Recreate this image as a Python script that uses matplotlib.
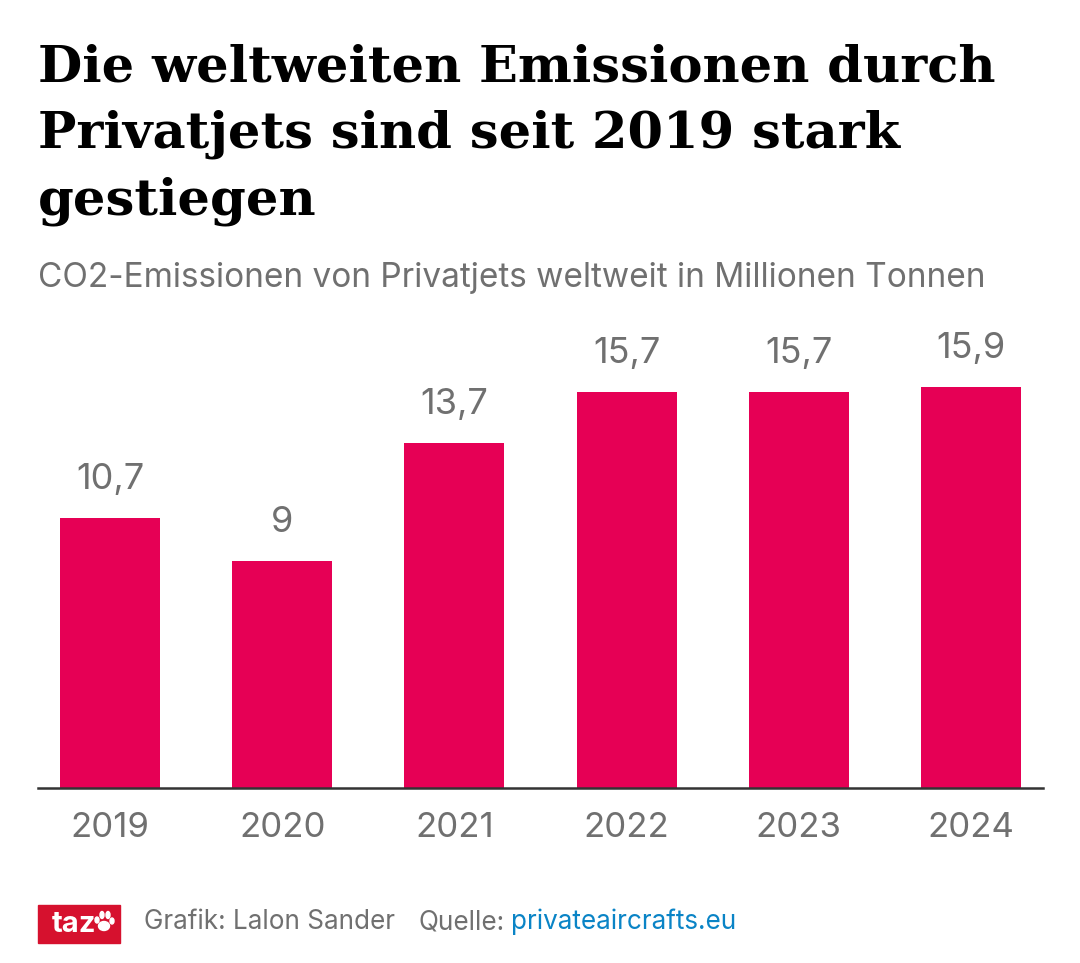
import matplotlib

matplotlib.use("Agg")

import matplotlib.pyplot as plt
from matplotlib.patches import Ellipse, Rectangle

years = ["2019", "2020", "2021", "2022", "2023", "2024"]
emissions = [10.7, 9.0, 13.7, 15.7, 15.7, 15.9]
value_labels = ["10,7", "9", "13,7", "15,7", "15,7", "15,9"]

title_lines = [
    "Die weltweiten Emissionen durch",
    "Privatjets sind seit 2019 stark",
    "gestiegen",
]
subtitle = "CO2-Emissionen von Privatjets weltweit in Millionen Tonnen"

W, H = 1080, 963
GREY = "#707070"
RED = "#E60055"

fig = plt.figure(figsize=(W / 100, H / 100), dpi=100)
fig.patch.set_facecolor("white")


def put(x, y, s, **kw):
    fig.text(x / W, 1 - y / H, s, **kw)


for y, line in zip([68, 134, 201], title_lines):
    put(38, y, line, fontsize=36.8, fontweight="bold", family="DejaVu Serif",
        va="center", ha="left", color="black")

put(38, 278, subtitle, fontsize=24, family="Inter", va="center", color=GREY)

ax = fig.add_axes([38 / W, 1 - 788 / H, (1043 - 38) / W, (788 - 330) / H])
ax.bar(range(len(years)), emissions, width=0.58, color=RED)
ax.set_xlim(-0.418, 5.418)
ax.set_ylim(0, 458 / 25.2)
ax.patch.set_alpha(0)
for side in ["top", "left", "right"]:
    ax.spines[side].set_visible(False)
ax.spines["bottom"].set_linewidth(1.8)
ax.spines["bottom"].set_color("#333333")
ax.set_yticks([])
ax.set_xticks(range(len(years)))
ax.set_xticklabels(years, fontsize=25, family="Inter", color=GREY)
ax.tick_params(axis="x", length=0, pad=17)
for i, (v, lab) in enumerate(zip(emissions, value_labels)):
    ax.annotate(lab, (i, v), xytext=(0, 16), textcoords="offset points",
                ha="center", va="bottom", fontsize=26, family="Inter",
                color=GREY)

# taz logo
LOGO = "#D6112E"
fig.add_artist(Rectangle((38 / W, 1 - 943 / H), 82 / W, 38 / H,
                         transform=fig.transFigure, color=LOGO))
put(52, 924, "taz", fontsize=21, fontweight="bold", family="Inter",
    color="white", va="center")
paw = [(104, 926, 11, 9), (97, 920, 4, 6), (102, 915, 4, 7),
       (108, 915, 4, 7), (112, 921, 4, 6)]
for cx, cy, ew, eh in paw:
    fig.add_artist(Ellipse((cx / W, 1 - cy / H), ew / W, eh / H,
                           transform=fig.transFigure, color="white"))

put(144, 922, "Grafik: Lalon Sander", fontsize=18.8, family="Inter",
    color=GREY, va="center")
put(419, 922, "Quelle:", fontsize=18.8, family="Inter", color=GREY, va="center")
put(511, 922, "privateaircrafts.eu", fontsize=18.8, family="Inter",
    color="#0A84C6", va="center")

fig.savefig("out.png", dpi=100)
